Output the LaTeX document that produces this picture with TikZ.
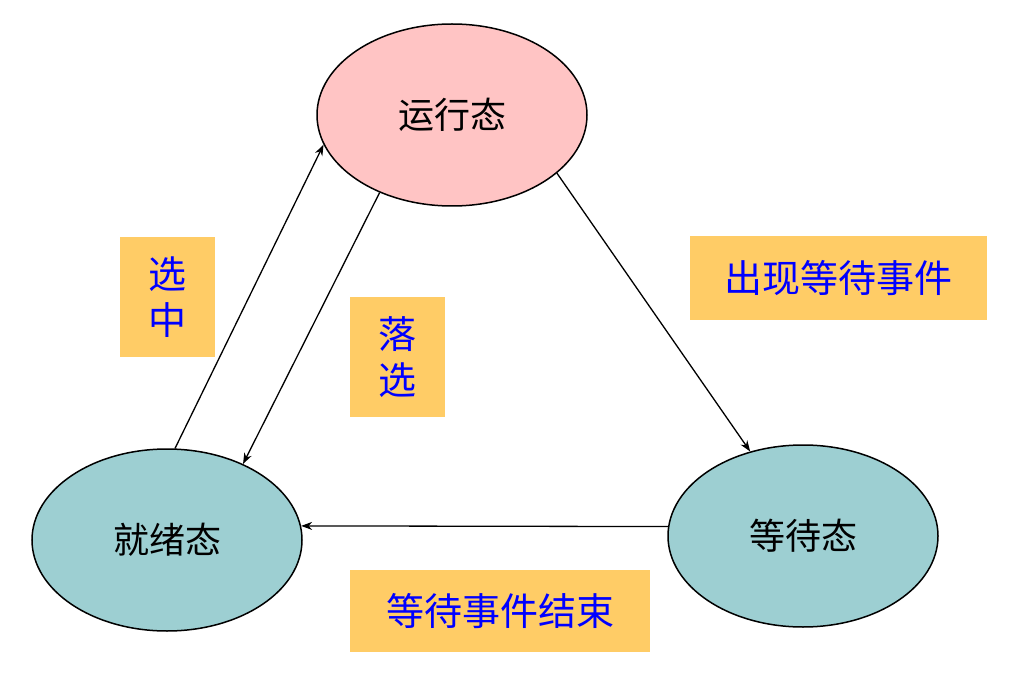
\documentclass[tikz,border=0pt]{standalone}
\usepackage{fontspec}
\setmainfont{Noto Sans CJK SC}
\usetikzlibrary{shapes.geometric,arrows.meta}
\definecolor{pinkf}{HTML}{FFC4C4}
\definecolor{tealf}{HTML}{9DCFD2}
\definecolor{orangef}{HTML}{FFCC66}
\begin{document}
\begin{tikzpicture}[x=1pt,y=-1pt,
  st/.style={ellipse,draw=black,line width=1.5pt,minimum width=270pt,minimum height=182pt,inner sep=0pt,font=\fontsize{36}{40}\selectfont},
  lab/.style={fill=orangef,text=blue,font=\fontsize{38}{46}\selectfont,inner sep=0pt,align=center},
  arr/.style={-{Stealth[length=11pt,width=8pt]},line width=1.3pt}]
\useasboundingbox (0,0) rectangle (1015,687);
\node[st,fill=pinkf] (run) at (452,115) {运行态};
\node[st,fill=tealf] (ready) at (167,540) {就绪态};
\node[st,fill=tealf] (wait) at (803,536) {等待态};
\node[lab,minimum width=95pt,minimum height=120pt] (l1) at (167,297) {选\\中};
\node[lab,minimum width=95pt,minimum height=120pt] (l2) at (397,357) {落\\选};
\node[lab,minimum width=297pt,minimum height=84pt] (l3) at (838,278) {出现等待事件};
\node[lab,minimum width=300pt,minimum height=82pt] (l4) at (500,611) {等待事件结束};
\draw[arr] (ready.85) -- (run.193);
\draw[arr] (run.227) -- (ready.45);
\draw[arr] (run.331) -- (wait.122);
\draw[arr] (wait.176) -- (ready.6);
\end{tikzpicture}
\end{document}
